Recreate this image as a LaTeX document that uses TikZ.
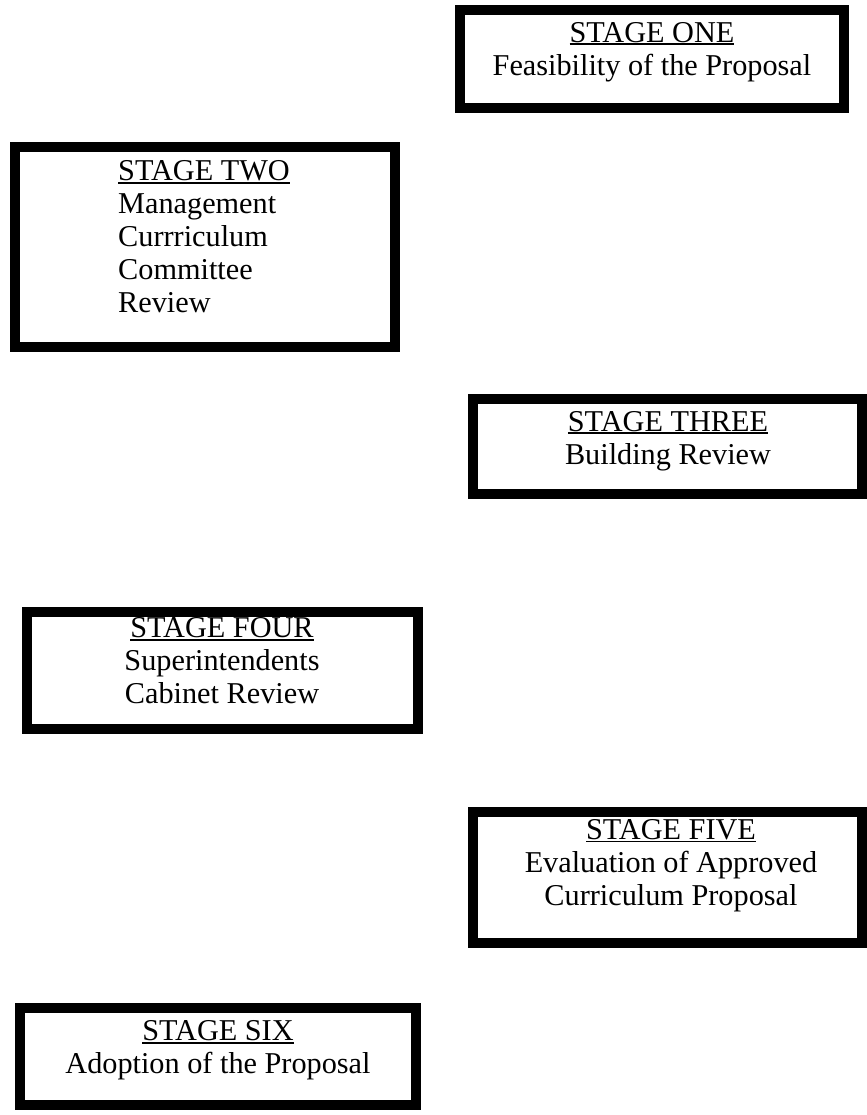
\documentclass[tikz,border=0pt]{standalone}
\usepackage{fontspec}
\setmainfont{Liberation Serif}
\newcommand\stul[1]{\setbox0\hbox{#1}\rlap{\rule[-2.1pt]{\wd0}{1.2pt}}\box0}
\tikzset{
  stagebox/.style={draw=black, line width=7.5pt, rectangle, inner sep=0pt, outer sep=0pt},
  stagetext/.style={inner sep=0pt, outer sep=0pt, align=center, font={\fontsize{22.7pt}{24.75pt}\selectfont}},
}
\begin{document}
\begin{tikzpicture}[x=0.75pt,y=-0.75pt]
\useasboundingbox (0,0) rectangle (867,1115);
% boxes
\node[stagebox, minimum width=288pt, minimum height=73.5pt] (b1) at (652,59) {};
\node[stagebox, minimum width=285pt, minimum height=150pt] (b2) at (205,247) {};
\node[stagebox, minimum width=291.75pt, minimum height=71.25pt] (b3) at (667.5,446.5) {};
\node[stagebox, minimum width=293.25pt, minimum height=87.75pt] (b4) at (222.5,670.5) {};
\node[stagebox, minimum width=291.75pt, minimum height=98.25pt] (b5) at (667.5,877.5) {};
\node[stagebox, minimum width=297pt, minimum height=72.75pt] (b6) at (218,1056.5) {};
% texts
\node[stagetext] (t1) at (652,52) {\stul{STAGE ONE}\\Feasibility of the Proposal};
\node[stagetext, align=left] (t2) at (204,237) {\stul{STAGE TWO}\\Management\\Currriculum\\Committee\\Review};
\node[stagetext] (t3) at (668,441) {\stul{STAGE THREE}\\Building Review};
\node[stagetext] (t4) at (222,661) {\stul{STAGE FOUR}\\Superintendents\\Cabinet Review};
\node[stagetext] (t5) at (671,865.5) {\stul{STAGE FIVE}\\Evaluation of Approved\\Curriculum Proposal};
\node[stagetext] (t6) at (218,1050.5) {\stul{STAGE SIX}\\Adoption of the Proposal};
\end{tikzpicture}
\end{document}
